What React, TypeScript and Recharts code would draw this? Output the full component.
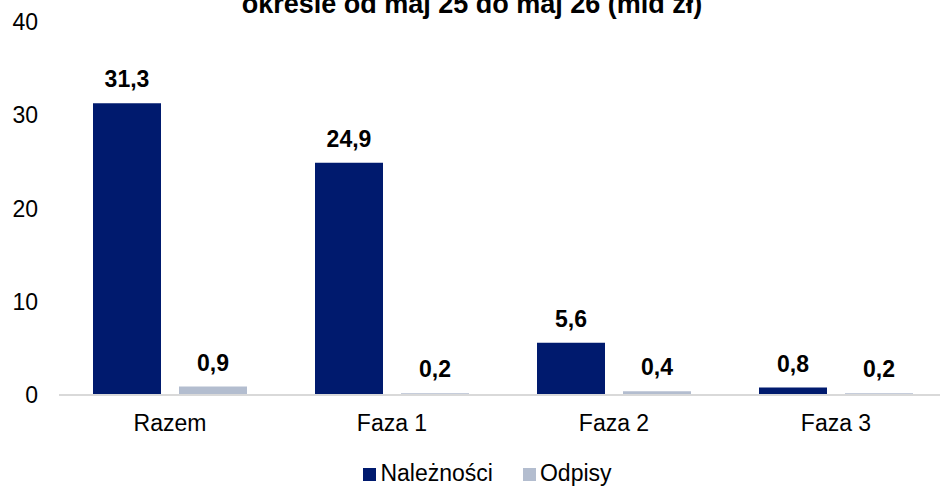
import React from "react";
import { BarChart, Bar, XAxis, YAxis, Legend, LabelList } from "recharts";

// === DATOS ===
const categorias = ["Razem", "Faza 1", "Faza 2", "Faza 3"];
const naleznosci = [31.3, 24.9, 5.6, 0.8];
const odpisy = [0.9, 0.2, 0.4, 0.2];
const yTicks = [0, 10, 20, 30, 40];
const titulo = "okresie od maj 25 do maj 26 (mld zł)";

const data = categorias.map((c, i) => ({
  name: c,
  naleznosci: naleznosci[i],
  odpisy: odpisy[i],
}));

const FONT = '"Liberation Sans", Arial, sans-serif';
const NAVY = "#001A6E";
const GRAY = "#B3BDCF";

const fmt = (v: any) => Number(v).toFixed(1).replace(".", ",");

const App: React.FC = () => {
  return (
    <div
      style={{
        position: "fixed",
        left: 0,
        top: 0,
        width: 940,
        height: 486,
        overflow: "hidden",
        background: "#fff",
        fontFamily: FONT,
      }}
    >
      {/* tytuł – górna część ucięta jak w oryginale */}
      <div
        style={{
          position: "absolute",
          top: -9,
          left: 0,
          width: 944,
          textAlign: "center",
          fontSize: 27,
          fontWeight: "bold",
          lineHeight: "27px",
          color: "#000",
          whiteSpace: "nowrap",
        }}
      >
        {titulo}
      </div>

      <BarChart
        width={960}
        height={486}
        data={data}
        margin={{ top: 22, right: 13, left: 0, bottom: 0 }}
        barSize={68}
        barGap={18}
        style={{ fontFamily: FONT }}
      >
        <XAxis
          dataKey="name"
          height={65}
          axisLine={{ stroke: "#D9D9D9", strokeWidth: 2 }}
          tickLine={false}
          tickSize={0}
          tickMargin={20}
          tick={{ fontSize: 23, fill: "#000", fontFamily: FONT }}
        />
        <YAxis
          width={59}
          domain={[0, 40]}
          ticks={yTicks}
          axisLine={false}
          tickLine={false}
          tickSize={0}
          tickMargin={21}
          tick={{ fontSize: 23, fill: "#000", fontFamily: FONT }}
        />
        <Legend
          verticalAlign="bottom"
          iconType="square"
          iconSize={13}
          wrapperStyle={{ fontSize: 23, lineHeight: "26px", fontFamily: FONT, left: 0, width: 985 }}
          formatter={(value: any, _e: any, index: number) => (
            <span style={{ color: "#000", marginRight: index === 0 ? 20 : 0 }}>{value}</span>
          )}
        />
        <Bar dataKey="naleznosci" name="Należności" fill={NAVY} isAnimationActive={false}>
          <LabelList
            dataKey="naleznosci"
            position="top"
            offset={16}
            formatter={fmt}
            style={{ fontSize: 23, fontWeight: "bold", fill: "#000", fontFamily: FONT }}
          />
        </Bar>
        <Bar dataKey="odpisy" name="Odpisy" fill={GRAY} isAnimationActive={false}>
          <LabelList
            dataKey="odpisy"
            position="top"
            offset={16}
            formatter={fmt}
            style={{ fontSize: 23, fontWeight: "bold", fill: "#000", fontFamily: FONT }}
          />
        </Bar>
      </BarChart>
    </div>
  );
};

export default App;
